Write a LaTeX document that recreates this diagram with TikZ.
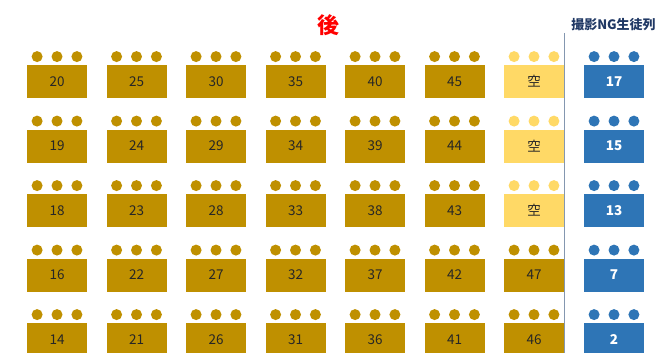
\documentclass[tikz,border=0pt]{standalone}
\usepackage{fontspec}
\setmainfont{Noto Sans CJK JP}
\usepackage{xcolor}
\usetikzlibrary{positioning}
\definecolor{deskGold}{HTML}{BF9000}
\definecolor{emptyYellow}{HTML}{FFD966}
\definecolor{ngBlue}{HTML}{2E75B6}
\definecolor{headNavy}{HTML}{203864}
\definecolor{lineGray}{HTML}{8497B0}
\definecolor{backRed}{HTML}{FF0000}
\tikzset{
  desk/.style    = {rectangle, fill=deskGold, inner sep=0pt,
                    minimum width=60pt, minimum height=33pt,
                    font=\fontsize{13.5}{13.5}\selectfont, text=black!85},
  ngdesk/.style  = {desk, fill=ngBlue, text=white,
                    font=\fontsize{13.5}{13.5}\selectfont\bfseries},
  seat/.style    = {circle, fill=deskGold, inner sep=0pt, minimum size=11pt},
  divider/.style = {draw=lineGray, line width=0.8pt},
  ngtitle/.style = {font=\fontsize{13}{13}\selectfont\bfseries, text=headNavy},
  backtitle/.style = {font=\fontsize{22}{22}\selectfont\bfseries, text=backRed}
}
\begin{document}
\begin{tikzpicture}[x=1pt, y=-1pt]
\useasboundingbox (0,0) rectangle (659,353);
\clip (0,0) rectangle (659,353);

% 見出し
\node[backtitle] (back) at (328,25) {後};
\node[ngtitle] (nghead) at (613.5,25) {撮影NG生徒列};

% 生徒席 (7列目は空席の色を行ごとに指定)
\foreach \st/\labels [count=\r] in {
    emptyYellow/{20,25,30,35,40,45,空},
    emptyYellow/{19,24,29,34,39,44,空},
    emptyYellow/{18,23,28,33,38,43,空},
    deskGold/{16,22,27,32,37,42,47},
    deskGold/{14,21,26,31,36,41,46}} {
  \foreach \lbl [count=\c] in \labels {
    \def\col{deskGold}
    \ifnum\c=7 \edef\col{\st}\fi
    \node[desk, fill=\col] (d\r-\c)
      at ({57+79.5*(\c-1)}, {81.5+64.5*(\r-1)}) {\lbl};
    \node[seat, fill=\col, above=2.5pt of d\r-\c] (s\r-\c-2) {};
    \node[seat, fill=\col, left=8.5pt of s\r-\c-2] (s\r-\c-1) {};
    \node[seat, fill=\col, right=8.5pt of s\r-\c-2] (s\r-\c-3) {};
  }
}

% 撮影NG列
\foreach \lbl [count=\r] in {17,15,13,7,2} {
  \node[ngdesk] (ng\r) at (614, {81.5+64.5*(\r-1)}) {\lbl};
  \node[seat, fill=ngBlue, above=2.5pt of ng\r] (ns\r-2) {};
  \node[seat, fill=ngBlue, left=8.5pt of ns\r-2] (ns\r-1) {};
  \node[seat, fill=ngBlue, right=8.5pt of ns\r-2] (ns\r-3) {};
}

% 区切り線
\coordinate (divtop) at (564.5,33);
\coordinate (divbot) at (564.5,353);
\draw[divider] (divtop) -- (divbot);
\end{tikzpicture}
\end{document}
